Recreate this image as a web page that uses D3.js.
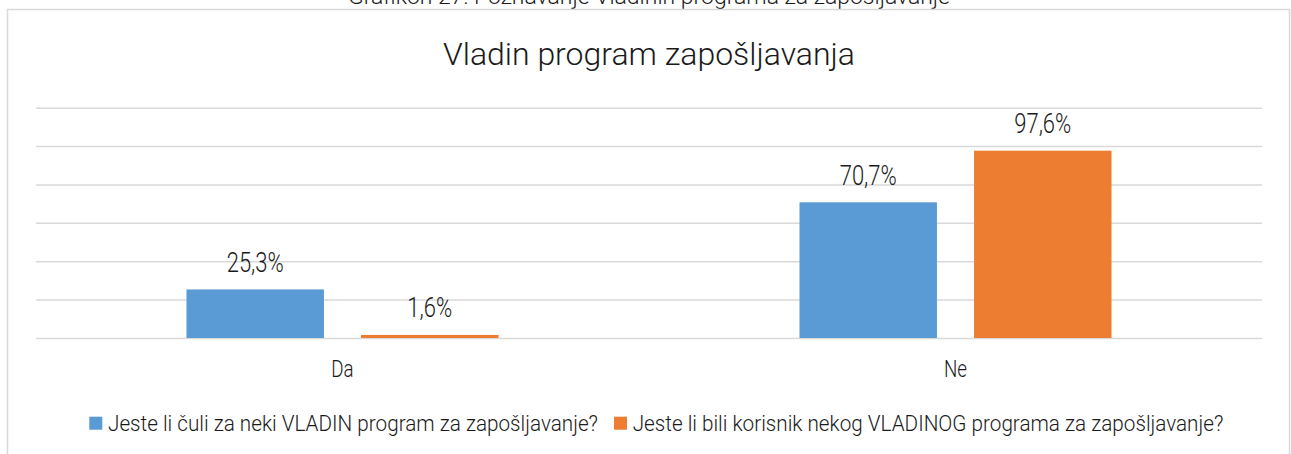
<!DOCTYPE html>
<html>
<head>
<meta charset="utf-8">
<script src="https://cdn.jsdelivr.net/npm/d3@7"></script>
<style>
  body { margin: 0; background: #fff; }
  text { font-family: "Roboto", "DejaVu Sans Condensed", sans-serif; font-weight: 300; fill: #1a1a1a; }
</style>
</head>
<body>
<div id="chart"></div>
<script>
const categories = ["Da", "Ne"];
const seriesNames = [
  "Jeste li čuli za neki VLADIN program za zapošljavanje?",
  "Jeste li bili korisnik nekog VLADINOG programa za zapošljavanje?"
];
const heardValues = [25.3, 70.7];
const usedValues = [1.6, 97.6];
const yTicks = [0, 20, 40, 60, 80, 100, 120];
const colors = ["#5b9bd5", "#ed7d31"];
const caption = "Grafikon 27: Poznavanje Vladinih programa za zapošljavanje";
const title = "Vladin program zapošljavanja";

const W = 1291, H = 454;

const svg = d3.select("#chart").append("svg")
  .attr("width", W).attr("height", H);

// how much a text of this size must be squeezed to get the wanted width
function factorFor(str, size, target) {
  let t = svg.append("text").style("font-size", size + "px").text(str);
  let k = target / t.node().getComputedTextLength();
  t.remove();
  return k;
}
function squeeze(sel, k) {
  sel.each(function () {
    let len = this.getComputedTextLength();
    d3.select(this).attr("textLength", len * k).attr("lengthAdjust", "spacingAndGlyphs");
  });
}

const kCaption = factorFor(caption, 22, 602);
const kTitle = factorFor(title, 31, 412);
const kValue = factorFor("25,3%", 27, 57);
const kCat = factorFor("Ne", 23, 23);
const kLegend = factorFor(seriesNames[0], 21.5, 490);

// caption of the page above, mostly cut off
svg.append("text")
  .attr("x", 649).attr("y", 4)
  .attr("text-anchor", "middle")
  .style("font-size", "22px")
  .text(caption)
  .call(squeeze, kCaption);

// chart border
svg.append("rect")
  .attr("x", 7.5).attr("y", 9.5)
  .attr("width", 1282).attr("height", 460)
  .attr("fill", "none").attr("stroke", "#d9d9d9").attr("stroke-width", 1.5);

svg.append("text")
  .attr("x", 649).attr("y", 64.5)
  .attr("text-anchor", "middle")
  .style("font-size", "31px")
  .text(title)
  .call(squeeze, kTitle);

const plot = { left: 36, right: 1262, top: 107.7, bottom: 338 };

const y = d3.scaleLinear().domain([0, 120]).range([plot.bottom, plot.top]);
const x0 = d3.scaleBand().domain(categories).range([plot.left, plot.right])
  .paddingInner(0.491).paddingOuter(0.2455);
const x1 = d3.scaleBand().domain([0, 1]).range([0, x0.bandwidth()])
  .paddingInner(0.2126).paddingOuter(0);

// gridlines
svg.append("g")
  .attr("transform", `translate(${plot.left},0)`)
  .call(d3.axisLeft(y).tickValues(yTicks).tickSize(-(plot.right - plot.left)).tickFormat(""))
  .call(g => g.select(".domain").remove())
  .call(g => g.selectAll(".tick line").attr("stroke", "#d9d9d9").attr("stroke-width", 1.5));

const rows = categories.map((c, i) => ({ cat: c, vals: [heardValues[i], usedValues[i]] }));

const groups = svg.append("g").selectAll("g")
  .data(rows).join("g")
  .attr("transform", d => `translate(${x0(d.cat)},0)`);

groups.selectAll("rect")
  .data(d => d.vals.map((v, s) => ({ v, s })))
  .join("rect")
  .attr("x", d => x1(d.s))
  .attr("y", d => y(d.v))
  .attr("width", x1.bandwidth())
  .attr("height", d => y(0) - y(d.v))
  .attr("fill", d => colors[d.s]);

groups.selectAll("text.val")
  .data(d => d.vals.map((v, s) => ({ v, s })))
  .join("text")
  .attr("class", "val")
  .attr("x", d => x1(d.s) + x1.bandwidth() / 2)
  .attr("y", d => y(d.v) - 17.5)
  .attr("text-anchor", "middle")
  .style("font-size", "27px")
  .text(d => d3.format(".1f")(d.v).replace(".", ",") + "%")
  .call(squeeze, kValue);

// category axis
svg.append("g")
  .attr("transform", `translate(0,${plot.bottom})`)
  .call(d3.axisBottom(x0).tickSize(0).tickPadding(0))
  .call(g => g.select(".domain").remove())
  .call(g => g.selectAll(".tick text")
    .attr("dy", null).attr("y", 39.3)
    .style("font-size", "23px").attr("font-family", null).attr("font-size", null)
    .attr("fill", null)
    .call(squeeze, kCat));

// legend
const legend = svg.append("g");
const items = legend.selectAll("g").data(seriesNames).join("g");
items.append("rect")
  .attr("width", 13).attr("height", 13).attr("y", 416.7)
  .attr("fill", (d, i) => colors[i]);
items.append("text")
  .attr("y", 430.7)
  .style("font-size", "21.5px")
  .text(d => d)
  .call(squeeze, kLegend);
let lx = 89.3;
items.each(function () {
  const g = d3.select(this);
  const tw = +g.select("text").attr("textLength");
  g.select("rect").attr("x", lx);
  g.select("text").attr("x", lx + 18.7);
  lx += 18.7 + tw + 16;
});
</script>
</body>
</html>
